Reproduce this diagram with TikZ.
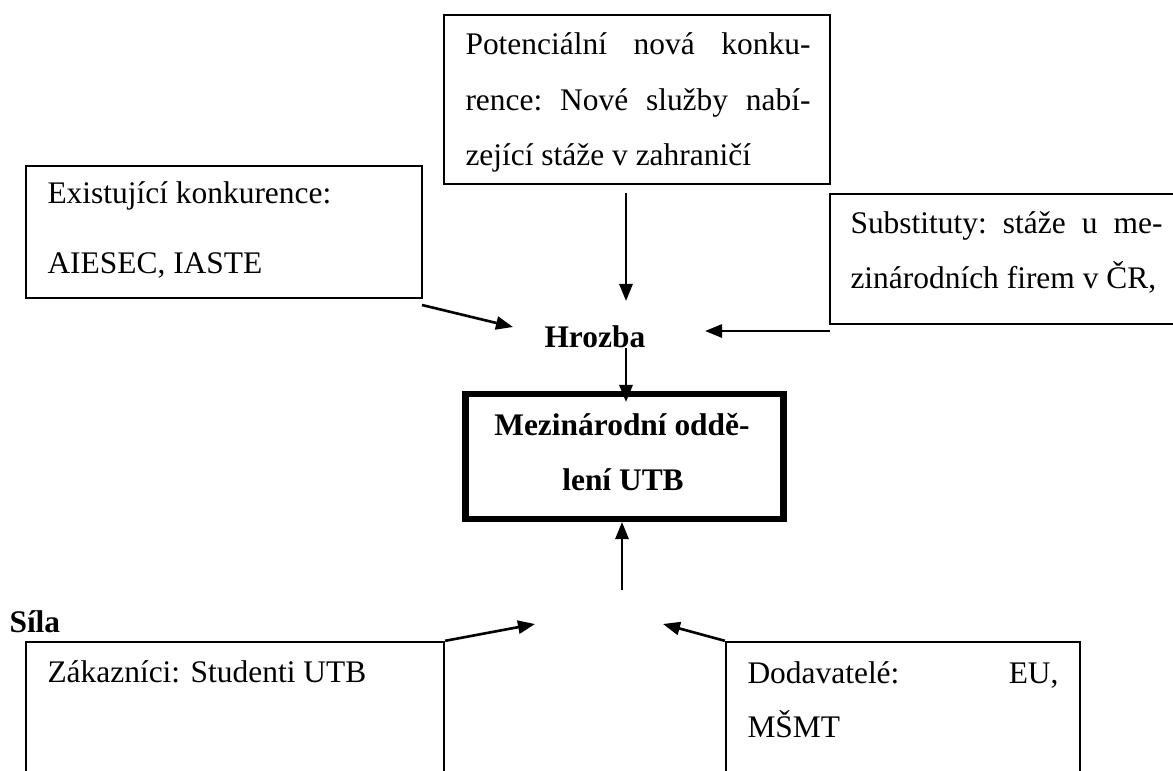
\documentclass[tikz,border=0pt]{standalone}
\usepackage{fontspec}
\setmainfont{Liberation Serif}
\usetikzlibrary{arrows.meta,fit}
\newlength\pu
\setlength\pu{0.3817pt}
\tikzset{
  box/.style={draw, line width=0.9pt, rectangle, inner sep=0pt},
  mainbox/.style={draw, line width=2.3pt, rectangle, inner sep=0pt},
  txt/.style={inner sep=0pt, anchor=base west, font=\fontsize{12pt}{14pt}\selectfont},
  btxt/.style={inner sep=0pt, anchor=base, font=\fontsize{12pt}{14pt}\selectfont\bfseries},
  arr/.style={line width=1pt, -{Triangle[length=6.5pt,width=5pt]}}
}
\begin{document}
\begin{tikzpicture}[x=0.3817pt, y=-0.3817pt]
\useasboundingbox (0,0) rectangle (1173,771);
\clip (0,0) rectangle (1173,771);

% boxes
\node[box, fit={(444,15) (830,184)}] (pot) {};
\node[box, fit={(26,166) (422,298)}] (exi) {};
\node[box, fit={(830,194) (1190,324)}] (sub) {};
\node[mainbox, fit={(465.5,394) (783.5,519)}] (mez) {};
\node[box, fit={(26,642) (444,800)}] (zak) {};
\node[box, fit={(726,642) (1080,800)}] (dod) {};

% texts
\node[txt] (pot1) at (465,55) {\hbox to 345\pu{Potenciální\hfill nová\hfill konku-}};
\node[txt] (pot2) at (465,110) {\hbox to 345\pu{rence:\hfill Nové\hfill služby\hfill nabí-}};
\node[txt] (pot3) at (465,165) {zející stáže v zahraničí};

\node[txt] (exi1) at (47,203) {Existující konkurence:};
\node[txt] (exi2) at (47,273) {AIESEC, IASTE};

\node[txt] (sub1) at (850,233) {\hbox to 312\pu{Substituty:\hfill stáže\hfill u\hfill me-}};
\node[txt] (sub2) at (850,288) {zinárodních firem v ČR,};

\node[btxt, anchor=base west] (hr) at (544,347) {Hrozba};

\node[btxt] (mez1) at (622,435) {Mezinárodní oddě-};
\node[btxt] (mez2) at (623,490) {lení UTB};

\node[btxt, anchor=base west] (sila) at (9,632) {Síla};

\node[txt] (zak1) at (47,682) {Zákazníci: Studenti UTB};

\node[txt] (dod1) at (747,683) {\hbox to 311\pu{Dodavatelé:\hfill EU,}};
\node[txt] (dod2) at (747,737) {MŠMT};

% connector end points
\coordinate (t1) at (626,193);
\coordinate (t2) at (626,301);
\coordinate (l1) at (422,305);
\coordinate (l2) at (513,327);
\coordinate (r1) at (830,331);
\coordinate (r2) at (705,331);
\coordinate (h1) at (626,348);
\coordinate (h2) at (626,402);
\coordinate (b1) at (622,590);
\coordinate (bl2) at (535,624);
\coordinate (br2) at (663,624);

\draw[arr] (t1) -- (t2);
\draw[arr] (l1) -- (l2);
\draw[arr] (r1) -- (r2);
\draw[arr] (h1) -- (h2);
\draw[arr] (b1) -- (b1 |- mez.south);
\draw[arr] (zak.north east) -- (bl2);
\draw[arr] (dod.north west) -- (br2);
\end{tikzpicture}
\end{document}
